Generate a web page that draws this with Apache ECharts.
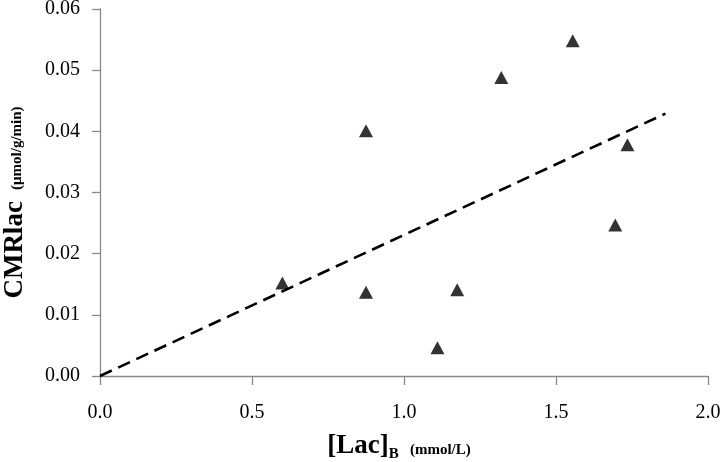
<!DOCTYPE html>
<html>
<head>
<meta charset="utf-8">
<script src="https://cdn.jsdelivr.net/npm/echarts@6/dist/echarts.min.js"></script>
<style>
  html, body { margin: 0; padding: 0; background: #fff; }
  #chart { width: 720px; height: 462px; }
</style>
</head>
<body>
<div id="chart"></div>
<script>
// measured points, [Lac]B vs CMRlac
var lacB = [0.60, 0.875, 1.175, 1.11, 1.735, 1.695, 1.555, 1.32, 0.875]
var cmrLac = [0.0152, 0.0137, 0.0141, 0.0046, 0.0378, 0.0247, 0.0548, 0.0488, 0.0401]
// regression line end points
var fitX = [0, 1.86]
var fitY = [0, 0.0429]
var xTicks = [0, 0.5, 1.0, 1.5, 2.0]
var yTicks = [0, 0.01, 0.02, 0.03, 0.04, 0.05, 0.06]

var points = []
for (var i = 0; i < lacB.length; i++) {
  points.push([lacB[i], cmrLac[i]])
}
var fitLine = []
for (var j = 0; j < fitX.length; j++) {
  fitLine.push([fitX[j], fitY[j]])
}

var serif = 'Liberation Serif'
var axisGrey = '#8a8a8a'

var myChart = echarts.init(document.getElementById('chart'))
var option = {
  animation: false,
  backgroundColor: '#fff',
  grid: { left: 100, right: 12, top: 9, bottom: 86, outerBoundsMode: 'none', containLabel: false },
  xAxis: {
    type: 'value',
    min: xTicks[0],
    max: xTicks[xTicks.length - 1],
    interval: 0.5,
    splitLine: { show: false },
    axisLine: { lineStyle: { color: axisGrey, width: 1.3 } },
    axisTick: { show: true, length: 9, lineStyle: { color: axisGrey, width: 1.3 } },
    axisLabel: {
      margin: 27,
      fontFamily: serif,
      fontSize: 20,
      color: '#000',
      formatter: function (v) { return v.toFixed(1) }
    },
    name: '{a|[Lac]}{b|B}{c|   (mmol/L)}',
    nameLocation: 'middle',
    nameGap: 54,
    nameTextStyle: {
      fontFamily: serif,
      fontWeight: 'bold',
      color: '#000',
      padding: [0, 10, 0, 0],
      rich: {
        a: { fontFamily: serif, fontWeight: 'bold', fontSize: 27, lineHeight: 32, verticalAlign: 'middle', color: '#000' },
        b: { fontFamily: serif, fontWeight: 'bold', fontSize: 15, lineHeight: 15, verticalAlign: 'bottom', color: '#000' },
        c: { fontFamily: serif, fontWeight: 'bold', fontSize: 15, lineHeight: 15, verticalAlign: 'bottom', padding: [0, 0, 4, 0], color: '#000' }
      }
    }
  },
  yAxis: {
    type: 'value',
    min: yTicks[0],
    max: yTicks[yTicks.length - 1],
    interval: 0.01,
    splitLine: { show: false },
    axisLine: { show: true, lineStyle: { color: axisGrey, width: 1.3 } },
    axisTick: { show: true, length: 8, lineStyle: { color: axisGrey, width: 1.3 } },
    axisLabel: {
      margin: 20,
      fontFamily: serif,
      fontSize: 20,
      color: '#000',
      formatter: function (v) { return v.toFixed(2) }
    },
    name: '{a|CMRlac}{c|   (μmol/g/min)}',
    nameLocation: 'middle',
    nameGap: 70,
    nameTextStyle: {
      fontFamily: serif,
      fontWeight: 'bold',
      color: '#000',
      padding: [0, 20, 0, 0],
      rich: {
        a: { fontFamily: serif, fontWeight: 'bold', fontSize: 27, lineHeight: 30, verticalAlign: 'middle', color: '#000' },
        c: { fontFamily: serif, fontWeight: 'bold', fontSize: 15, lineHeight: 15, verticalAlign: 'bottom', padding: [0, 0, 5, 0], color: '#000' }
      }
    }
  },
  series: [
    {
      type: 'line',
      data: fitLine,
      symbol: 'none',
      lineStyle: { color: '#000', width: 2.6, type: [13, 7] },
      z: 2
    },
    {
      type: 'scatter',
      data: points,
      symbol: 'triangle',
      symbolSize: [14, 13],
      itemStyle: { color: '#000' },
      z: 3
    }
  ]
}
myChart.setOption(option)
</script>
</body>
</html>
